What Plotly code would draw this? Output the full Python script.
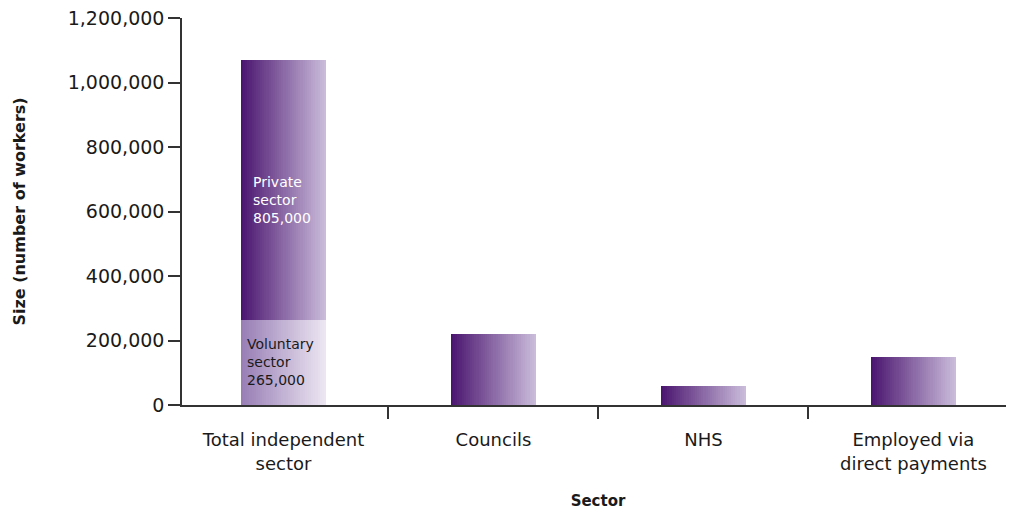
import plotly.graph_objects as go

categories = ["Total independent<br>sector", "Councils", "NHS", "Employed via<br>direct payments"]
main_values = [805000, 220000, 60000, 150000]
main_bases = [265000, 0, 0, 0]
voluntary_values = [265000, None, None, None]
y_ticks = [0, 200000, 400000, 600000, 800000, 1000000, 1200000]

fig = go.Figure()

N = 40
W = 0.405


def lerp(c1, c2, t):
    return "rgb(%d,%d,%d)" % tuple(round(a + (b - a) * t) for a, b in zip(c1, c2))


dark_l, dark_r = (75, 22, 112), (202, 187, 218)
light_l, light_r = (152, 126, 181), (236, 230, 242)

for i in range(N):
    t = i / (N - 1)
    off = -W / 2 + i * W / N
    fig.add_trace(go.Bar(x=categories, y=main_values, base=main_bases,
                         width=W / N * 1.15, offset=off,
                         marker=dict(color=lerp(dark_l, dark_r, t), line=dict(width=0)),
                         showlegend=False, hoverinfo="skip"))
    fig.add_trace(go.Bar(x=categories, y=voluntary_values, base=[0, 0, 0, 0],
                         width=W / N * 1.15, offset=off,
                         marker=dict(color=lerp(light_l, light_r, t), line=dict(width=0)),
                         showlegend=False, hoverinfo="skip"))

FONT = "DejaVu Sans"

fig.add_annotation(x=categories[0], y=635000, xref="x", yref="y", xshift=-32,
                   text="Private<br>sector<br>805,000", showarrow=False, xanchor="left",
                   align="left", font=dict(family=FONT, size=14, color="white"))
fig.add_annotation(x=categories[0], y=132000, xref="x", yref="y", xshift=-38,
                   text="Voluntary<br>sector<br>265,000", showarrow=False, xanchor="left",
                   align="left", font=dict(family=FONT, size=14, color="#1a1a1a"))

# page body has an 8px margin; compensate so the plot lands where the reference has it
fig.update_layout(
    width=1006, height=506,
    margin=dict(l=174, r=0, t=10, b=109),
    plot_bgcolor="white", paper_bgcolor="white",
    barmode="overlay", bargap=0,
    font=dict(family=FONT, size=18, color="#1a1a1a"),
    xaxis=dict(range=[-0.4833, 3.479], showgrid=False, showline=True, linecolor="#333333",
               linewidth=1.5, ticks="outside", tickson="boundaries", ticklen=12,
               tickcolor="#333333", tickwidth=1.5, ticklabelstandoff=18,
               tickfont=dict(size=18),
               title=dict(text="<b>Sector</b>", font=dict(size=15), standoff=23)),
    yaxis=dict(range=[0, 1200000], tickvals=y_ticks, tickformat=",d", showgrid=False,
               showline=True, linecolor="#333333", linewidth=1.5, ticks="outside",
               ticklen=12, tickcolor="#333333", tickwidth=1.5, zeroline=False,
               ticklabeloverflow="allow", tickfont=dict(size=19),
               title=dict(text="<b>Size (number of workers)</b>", font=dict(size=16),
                          standoff=38)),
)

fig.write_html("out.html")
